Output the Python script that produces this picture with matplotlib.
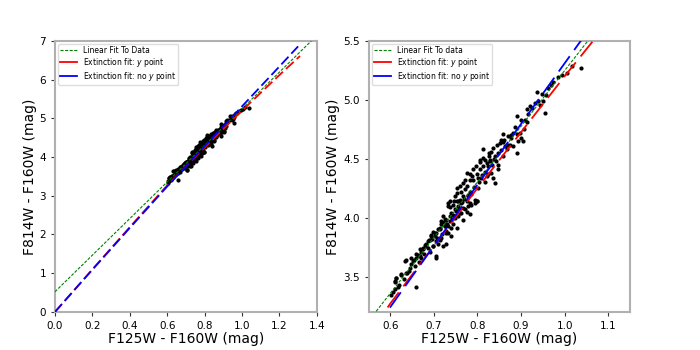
import numpy as np
import matplotlib
matplotlib.use('Agg')
import matplotlib.pyplot as plt

plt.rcParams['lines.scale_dashes'] = False

# colour-colour data points (F125W-F160W, F814W-F160W)
cor_x = [1.038, 1.016, 1.005, 0.973, 0.963, 0.936, 0.947, 0.956, 0.951, 0.940,
         0.920, 0.913, 0.901, 0.909, 0.913, 0.890, 0.907, 0.901, 0.894, 0.905,
         0.890, 0.882, 0.871, 0.859, 0.863, 0.874, 0.882, 0.890, 0.855, 0.851,
         0.844, 0.836, 0.832, 0.817, 0.821, 0.828, 0.825, 0.813, 0.805, 0.817,
         0.798, 0.802, 0.809, 0.790, 0.783, 0.821, 0.825, 0.836, 0.840, 0.832,
         0.848, 0.794, 0.786, 0.783, 0.775, 0.771, 0.763, 0.767, 0.760, 0.752,
         0.756, 0.748, 0.744, 0.740, 0.736, 0.733, 0.729, 0.721, 0.717, 0.725,
         0.714, 0.710, 0.706, 0.702, 0.698, 0.694, 0.691, 0.687, 0.683, 0.679,
         0.675, 0.671, 0.668, 0.664, 0.660, 0.652, 0.648, 0.637, 0.645, 0.638,
         0.625, 0.614, 0.610, 0.618, 0.606, 0.602, 0.612, 0.658, 0.706, 0.691,
         0.733, 0.744, 0.756, 0.763, 0.775, 0.798, 0.783, 0.767, 0.740, 0.729,
         0.714, 0.698, 0.752, 0.748, 0.760, 0.767, 0.775, 0.783, 0.790, 0.796,
         0.805, 0.813, 0.828, 0.840, 0.848, 0.859, 0.867, 0.848, 0.827,
         0.610, 0.614, 0.625, 0.637, 0.633, 0.648, 0.660, 0.671, 0.675, 0.656,
         0.668, 0.683, 0.690, 0.694, 0.702, 0.706, 0.698, 0.710, 0.717, 0.714,
         0.725, 0.733, 0.737, 0.740, 0.729, 0.721, 0.748, 0.752, 0.759, 0.767,
         0.771, 0.779, 0.782, 0.794, 0.786, 0.798, 0.733, 0.737, 0.746, 0.775,
         0.756, 0.723, 0.727, 0.744, 0.751, 0.762, 0.770, 0.778, 0.742, 0.731,
         0.719, 0.708, 0.785, 0.792, 0.803, 0.811, 0.757, 0.765,
         0.818, 0.826, 0.834, 0.842, 0.812, 0.801, 0.853, 0.861, 0.869, 0.878,
         0.886, 0.897, 0.916, 0.925, 0.931, 0.944, 0.958, 0.968, 0.985, 0.993,
         0.771, 0.779, 0.788, 0.754, 0.738, 0.726, 0.716, 0.704, 0.696, 0.686,
         0.677, 0.666, 0.654, 0.643, 0.631, 0.621, 0.806, 0.837, 0.858, 0.876]
cor_y = [5.27, 5.29, 5.23, 5.15, 5.10, 5.07, 5.05, 4.89, 4.99, 4.99,
         4.95, 4.92, 4.83, 4.83, 4.81, 4.86, 4.75, 4.68, 4.65, 4.65,
         4.71, 4.72, 4.69, 4.71, 4.61, 4.62, 4.61, 4.55, 4.66, 4.63,
         4.62, 4.59, 4.56, 4.49, 4.46, 4.48, 4.44, 4.44, 4.41, 4.39,
         4.37, 4.34, 4.34, 4.32, 4.32, 4.35, 4.37, 4.34, 4.29, 4.38,
         4.41, 4.15, 4.21, 4.22, 4.27, 4.24, 4.22, 4.18, 4.15, 4.14,
         4.10, 4.07, 4.11, 4.04, 4.01, 4.10, 3.98, 4.01, 3.95, 3.93,
         3.91, 3.90, 3.87, 3.84, 3.88, 3.85, 3.81, 3.80, 3.76, 3.77,
         3.73, 3.71, 3.67, 3.68, 3.66, 3.63, 3.61, 3.64, 3.57, 3.53,
         3.51, 3.49, 3.46, 3.41, 3.37, 3.34, 3.39, 3.41, 3.66, 3.71,
         3.93, 3.95, 4.01, 4.04, 4.05, 4.14, 4.12, 4.08, 3.91, 3.87,
         3.81, 3.76, 4.21, 4.18, 4.27, 4.29, 4.38, 4.37, 4.41, 4.44,
         4.49, 4.51, 4.49, 4.52, 4.45, 4.52, 4.58, 4.55, 4.55,
         3.45, 3.49, 3.52, 3.53, 3.63, 3.66, 3.69, 3.66, 3.74, 3.59,
         3.73, 3.78, 3.81, 3.84, 3.87, 3.67, 3.76, 3.78, 3.83, 3.90,
         3.93, 3.87, 3.97, 3.84, 3.78, 3.76, 4.00, 3.91, 4.04, 3.98,
         4.07, 4.10, 4.03, 4.12, 4.11, 4.14, 4.12, 4.09, 4.14, 4.14,
         4.14, 3.96, 3.89, 4.02, 4.06, 4.12, 4.16, 4.19, 3.99, 3.95,
         3.86, 3.83, 4.20, 4.26, 4.30, 4.36, 4.07, 4.13,
         4.30, 4.52, 4.45, 4.48, 4.58, 4.25, 4.57, 4.66, 4.62, 4.68,
         4.77, 4.72, 4.88, 4.93, 4.97, 4.96, 5.04, 5.13, 5.19, 5.21,
         4.32, 4.18, 4.35, 4.25, 4.14, 3.99, 3.97, 3.80, 3.82, 3.74,
         3.69, 3.62, 3.64, 3.55, 3.48, 3.43, 4.47, 4.50, 4.64, 4.70]

# linear fit to the data
ajuste_x = [0.0, 1.4]
ajuste_y = [0.52, 7.14]

# extinction fits
ext_x = [0.0, 0.2, 0.4, 0.6, 0.8, 1.0, 1.2, 1.31]
ext_y_com = [0.0, 1.10, 2.19, 3.27, 4.25, 5.20, 6.12, 6.61]
ext_x_sem = [0.0, 0.2, 0.4, 0.6, 0.8, 1.0, 1.2, 1.30]
ext_y_sem = [0.0, 1.09, 2.17, 3.24, 4.28, 5.31, 6.34, 6.86]

rotulos = ['Linear Fit To Data', 'Linear Fit To data']


def desenhar(ax, rotulo_ajuste, tracos):
    ax.plot(ajuste_x, ajuste_y, color='green', ls=(0, (2.2, 1.1)), lw=0.8,
            label=rotulo_ajuste, zorder=3)
    ax.plot(ext_x, ext_y_com, color='red', ls=(0, tracos), lw=1.3,
            label=r'Extinction fit: $y$ point', zorder=3)
    ax.plot(ext_x_sem, ext_y_sem, color='blue', ls=(0, tracos), lw=1.3,
            label=r'Extinction fit: no $y$ point', zorder=3)
    ax.scatter(cor_x, cor_y, s=4, color='black', zorder=2)
    leg = ax.legend(loc='upper left', fontsize=5.5, framealpha=1, edgecolor='#dddddd',
                    labelspacing=0.12, borderpad=0.25, handlelength=2.2,
                    borderaxespad=0.4)
    for linha in leg.get_lines():
        if linha.get_color() != 'green':
            linha.set_linestyle('-')
    for lado in ax.spines.values():
        lado.set_color('#b0b0b0')
        lado.set_linewidth(1.5)
    ax.tick_params(labelsize=7.5, color='#333333', length=3)
    ax.set_xlabel('F125W - F160W (mag)', fontsize=10, labelpad=1)
    ax.set_ylabel('F814W - F160W (mag)', fontsize=10, labelpad=2)


fig = plt.figure(figsize=(7, 3.5), dpi=100)
ax1 = fig.add_axes([0.0786, 0.109, 0.374, 0.774])
ax2 = fig.add_axes([0.527, 0.109, 0.373, 0.774])

desenhar(ax1, rotulos[0], (7.5, 3.0))
ax1.set_xlim(0, 1.4)
ax1.set_ylim(0, 7)
ax1.set_xticks(np.arange(0, 1.41, 0.2))

desenhar(ax2, rotulos[1], (13.5, 5.5))
ax2.set_xlim(0.551, 1.15)
ax2.set_ylim(3.2, 5.5)
ax2.set_xticks([0.6, 0.7, 0.8, 0.9, 1.0, 1.1])
ax2.set_yticks([3.5, 4.0, 4.5, 5.0, 5.5])

fig.savefig('out.png', dpi=100)
